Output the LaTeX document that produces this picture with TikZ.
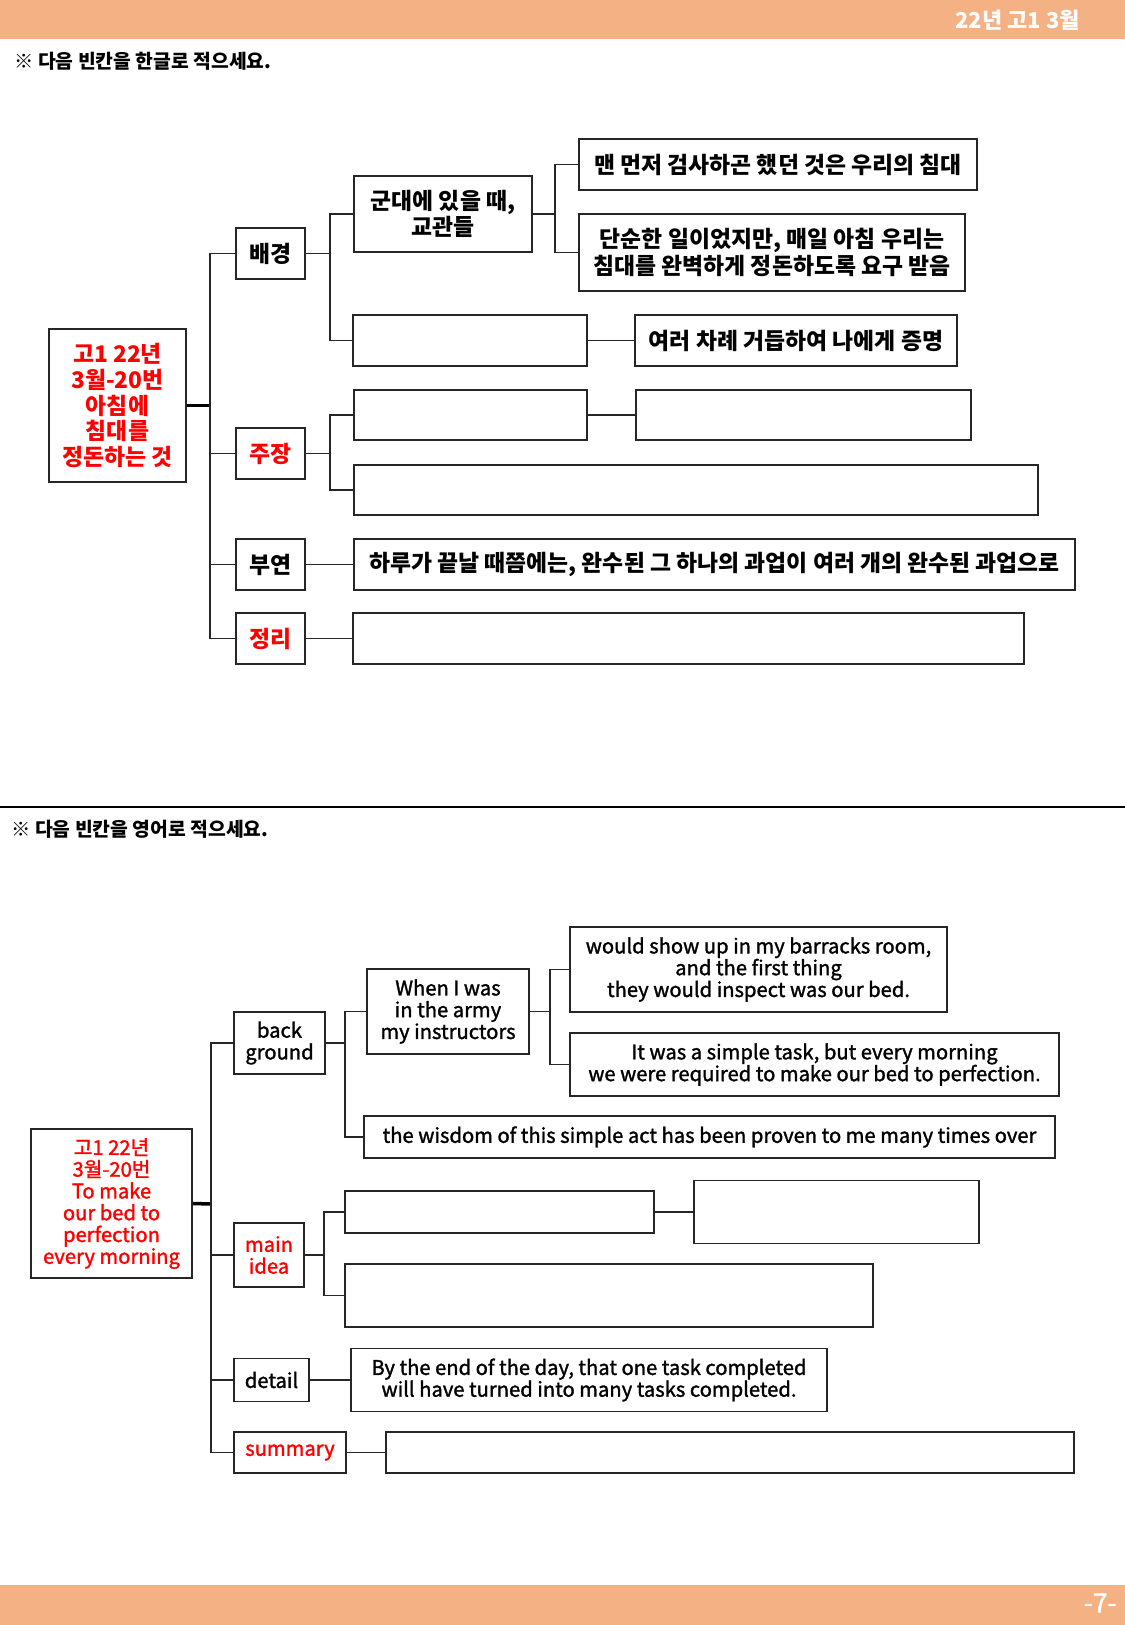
\documentclass[tikz,border=0pt]{standalone}
\usepackage{fontspec}
\setmainfont{Noto Sans CJK KR}
\newfontfamily\engfont{Noto Sans CJK KR}[FakeBold=1.5]
\usetikzlibrary{positioning}
\definecolor{Peach}{HTML}{F4B183}
\definecolor{KeyRed}{HTML}{FF0000}
\tikzset{
  box/.style={draw=black!85,line width=1.1pt,align=center,inner sep=0pt},
  sz/.style 2 args={minimum width=#1*0.02cm,minimum height=#2*0.02cm},
  link/.style={draw=black!85,line width=1pt},
  trunk/.style={draw=black,line width=2pt},
  kor/.style={font=\bfseries\fontsize{13}{15}\selectfont},
  eng/.style={font=\engfont\fontsize{11.5}{12.4}\selectfont},
  key/.style={text=KeyRed},
}

\begin{document}
\begin{tikzpicture}[x=0.02cm,y=-0.02cm]
  \useasboundingbox (0,0) rectangle (1125,1625);
  % page frame
  \fill[Peach] (0,0) rectangle (1125,39);
  \fill[Peach] (0,1585) rectangle (1125,1625);
  \node[anchor=east,inner sep=0pt,text=white,font=\bfseries\fontsize{12.5}{14}\selectfont] (head) at (1080,20) {22년 고1 3월};
  \node[anchor=east,inner sep=0pt,text=white,font=\engfont\fontsize{15}{17}\selectfont] (page) at (1117,1603) {-7-};
  \draw[line width=1.5pt] (0,807) -- (1125,807);
  \node[anchor=west,inner sep=0pt,font=\bfseries\fontsize{11}{13}\selectfont] (note1) at (14,61) {※ 다음 빈칸을 한글로 적으세요.};
  \node[anchor=west,inner sep=0pt,font=\bfseries\fontsize{11}{13}\selectfont] (note2) at (11,829) {※ 다음 빈칸을 영어로 적으세요.};

  % Korean map
  \node[box,sz={137}{153},kor,key,font=\bfseries\fontsize{13}{14.7}\selectfont] (root) at (117.5,405.5) {고1 22년\\3월-20번\\아침에\\침대를\\정돈하는 것};
  \node[box,sz={69}{51},kor] (bg) at (270.5,253.5) {배경};
  \node[box,sz={69}{51},kor,key] (claim) at (270.5,453.5) {주장};
  \node[box,sz={69}{51},kor] (ext) at (270.5,564.5) {부연};
  \node[box,sz={69}{51},kor,key] (wrap) at (270.5,638.5) {정리};
  \node[box,sz={178}{76},kor] (army) at (443,214) {군대에 있을 때,\\교관들};
  \node[box,sz={398}{51},kor] (first) at (778,164.5) {맨 먼저 검사하곤 했던 것은 우리의 침대};
  \node[box,sz={386}{77},kor] (simple) at (772,252.5) {단순한 일이었지만, 매일 아침 우리는\\침대를 완벽하게 정돈하도록 요구 받음};
  \node[box,sz={234}{51}] (bgblank) at (470,340.5) {};
  \node[box,sz={322}{51},kor] (proven) at (796,340.5) {여러 차례 거듭하여 나에게 증명};
  \node[box,sz={233}{50}] (clblankA) at (470.5,415) {};
  \node[box,sz={335}{50}] (clblankB) at (803.5,415) {};
  \node[box,sz={684}{50}] (clblankC) at (696,490) {};
  \node[box,sz={721}{51},kor] (exttext) at (714.5,564.5) {하루가 끝날 때쯤에는, 완수된 그 하나의 과업이 여러 개의 완수된 과업으로};
  \node[box,sz={671}{51}] (wrapblank) at (688.5,638.5) {};

  \coordinate (bus) at (210,405.5);
  \coordinate (bgfork) at (330,253.5);
  \coordinate (armyfork) at (555,214);
  \coordinate (clfork) at (330,453.5);
  \draw[trunk] (root.east) -- (bus);
  \draw[link] (bus) |- (bg.west);
  \draw[link] (bus) |- (claim.west);
  \draw[link] (bus) |- (ext.west);
  \draw[link] (bus) |- (wrap.west);
  \draw[link] (bg.east) -- (bgfork) |- (army.west);
  \draw[link] (bgfork) |- (bgblank.west);
  \draw[link] (army.east) -- (armyfork) |- (first.west);
  \draw[link] (armyfork) |- (simple.west);
  \draw[link] (bgblank.east) -- (proven.west);
  \draw[link] (claim.east) -- (clfork) |- (clblankA.west);
  \draw[link] (clfork) |- (clblankC.west);
  \draw[link] (clblankA.east) -- (clblankB.west);
  \draw[link] (ext.east) -- (exttext.west);
  \draw[link] (wrap.east) -- (wrapblank.west);

  % English map
  \node[box,sz={161}{149},eng,key] (root2) at (111.5,1203.5) {고1 22년\\3월-20번\\To make\\our bed to\\perfection\\every morning};
  \node[box,sz={91}{62},eng] (bg2) at (279.5,1043) {back\\ground};
  \node[box,sz={70}{64},eng,key] (main) at (269,1255) {main\\idea};
  \node[box,sz={75}{43},eng] (det) at (271.5,1380) {detail};
  \node[box,sz={112}{41},eng,key] (smry) at (290,1452.5) {summary};
  \node[box,sz={162}{85},eng] (army2) at (448,1011.5) {When I was\\in the army\\my instructors};
  \node[box,sz={377}{85},eng] (would) at (758.5,969.5) {would show up in my barracks room,\\and the first thing\\they would inspect was our bed.};
  \node[box,sz={489}{63},eng] (task) at (814.5,1064.5) {It was a simple task, but every morning\\we were required to make our bed to perfection.};
  \node[box,sz={691}{42},eng] (wisdom) at (709.5,1137) {the wisdom of this simple act has been proven to me many times over};
  \node[box,sz={309}{42}] (mnblankA) at (499.5,1212) {};
  \node[box,sz={285}{63}] (mnblankB) at (836.5,1212) {};
  \node[box,sz={528}{63}] (mnblankC) at (609,1295.5) {};
  \node[box,sz={476}{63},eng] (dettext) at (589,1380) {By the end of the day, that one task completed\\will have turned into many tasks completed.};
  \node[box,sz={688}{41}] (smblank) at (730,1452.5) {};

  \coordinate (bus2) at (211,1204);
  \coordinate (bg2fork) at (345,1043);
  \coordinate (army2fork) at (550,1011.5);
  \coordinate (mainfork) at (324,1255);
  \draw[trunk] (root2.east) -- (bus2);
  \draw[link] (bus2) |- (bg2.west);
  \draw[link] (bus2) |- (main.west);
  \draw[link] (bus2) |- (det.west);
  \draw[link] (bus2) |- (smry.west);
  \draw[link] (bg2.east) -- (bg2fork) |- (army2.west);
  \draw[link] (bg2fork) |- (wisdom.west);
  \draw[link] (army2.east) -- (army2fork) |- (would.west);
  \draw[link] (army2fork) |- (task.west);
  \draw[link] (main.east) -- (mainfork) |- (mnblankA.west);
  \draw[link] (mainfork) |- (mnblankC.west);
  \draw[link] (mnblankA.east) -- (mnblankB.west);
  \draw[link] (det.east) -- (dettext.west);
  \draw[link] (smry.east) -- (smblank.west);
\end{tikzpicture}
\end{document}
